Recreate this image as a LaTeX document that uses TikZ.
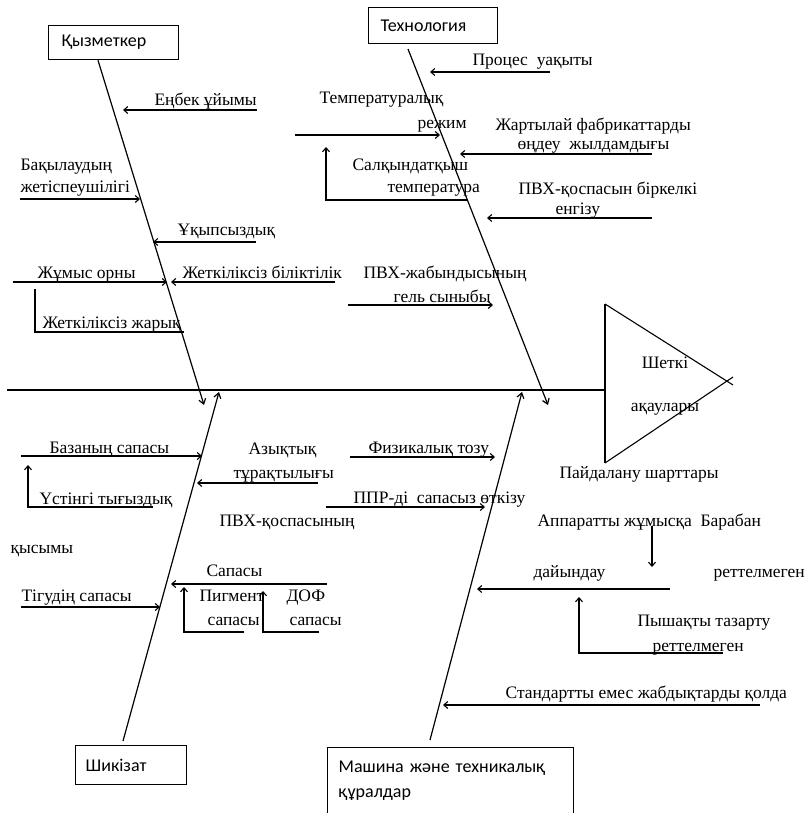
\documentclass[tikz,border=0pt]{standalone}
\usepackage{fontspec}
\setmainfont{Liberation Serif}
\newfontfamily\boxfont{Carlito}
\usetikzlibrary{arrows.meta}
\begin{document}
\begin{tikzpicture}[x=1pt,y=-1pt,line width=1.1pt,
  lbl/.style={anchor=base west,inner sep=0pt,font=\fontsize{17.5}{22}\selectfont},
  clbl/.style={anchor=base,inner sep=0pt,font=\fontsize{17.5}{22}\selectfont},
  catbox/.style={draw,line width=1.3pt,anchor=north west,align=left,
    font=\boxfont\fontsize{18}{25}\selectfont,inner ysep=0pt},
  arr/.style={-{Straight Barb[length=4pt,width=7pt]}},
  bone/.style={line width=1.2pt,-{Straight Barb[length=5pt,width=7pt]}}]
\useasboundingbox (0,0) rectangle (807,813);

% ---------- category boxes ----------
\node[catbox,minimum width=130pt,minimum height=34pt,text width=104pt,inner xsep=13pt] (staff) at (48,25) {Қызметкер};
\node[catbox,minimum width=129pt,minimum height=36pt,text width=105pt,inner xsep=12pt] (tech) at (368,7) {Технология};
\node[catbox,minimum width=111pt,minimum height=39pt,text width=91pt,inner xsep=10pt] (raw) at (75,745) {Шикізат};
\node[catbox,minimum width=246pt,minimum height=67pt,text width=224pt,inner xsep=11pt] (mach) at (327,747) {Машина және техникалық\\құралдар};

% ---------- head (effect) ----------
\coordinate (triTop) at (605,304);
\coordinate (triBot) at (605,463);
\coordinate (triTipA) at (733,385);
\coordinate (triTipB) at (733,377);
\coordinate (spineStart) at (7,390);
\coordinate (spineEnd) at (605,390);
\draw (triTop) -- (triBot);
\draw (triTop) -- (triTipA);
\draw (triBot) -- (triTipB);
\draw (spineStart) -- (spineEnd);
\node[clbl] (eff1) at (665,368) {Шеткі};
\node[clbl] (eff2) at (665,411) {ақаулары};

% ---------- main bones ----------
\coordinate (staffTip) at (204,405);
\coordinate (techTail) at (408,49);
\coordinate (techTip) at (548,405);
\coordinate (rawTail) at (123,741);
\coordinate (rawTip) at (219,392);
\coordinate (machTail) at (430,740);
\coordinate (machTip) at (522,392);
\draw[bone] ([xshift=50pt]staff.south west) -- (staffTip);
\draw[bone] (techTail) -- (techTip);
\draw[bone] (rawTail) -- (rawTip);
\draw[bone] (machTail) -- (machTip);

% ---------- staff causes ----------
\node[lbl] (s1) at (154,106) {Еңбек ұйымы};
\node[lbl] (s2a) at (20,171) {Бақылаудың};
\node[lbl] (s2b) at (20,193) {жетіспеушілігі};
\node[lbl] (s3) at (177,235) {Ұқыпсыздық};
\node[lbl] (s4) at (37,278) {Жұмыс орны};
\node[lbl] (s5) at (182,278) {Жеткіліксіз біліктілік};
\node[lbl] (s6) at (42,328) {Жеткіліксіз жарық};
\coordinate (s1a) at (257,110); \coordinate (s1b) at (123,110);
\coordinate (s2x) at (20,199);  \coordinate (s2y) at (140,199);
\coordinate (s3a) at (256,242); \coordinate (s3b) at (153,242);
\coordinate (s4a) at (13,282);  \coordinate (s4b) at (167,282);
\coordinate (s5a) at (335,282); \coordinate (s5b) at (171,282);
\coordinate (s6a) at (35,289);  \coordinate (s6c) at (35,332); \coordinate (s6b) at (184,332);
\draw[arr] (s1a) -- (s1b);
\draw[arr] (s2x) -- (s2y);
\draw[arr] (s3a) -- (s3b);
\draw[arr] (s4a) -- (s4b);
\draw[arr] (s5a) -- (s5b);
\draw (s6a) -- (s6c) -- (s6b);

% ---------- technology causes ----------
\node[lbl] (t1) at (472,66) {Процес\ \ уақыты};
\node[lbl] (t2a) at (319,104) {Температуралық};
\node[lbl] (t2b) at (417,129) {режим};
\node[lbl] (t3a) at (495,131) {Жартылай фабрикаттарды};
\node[lbl] (t3b) at (517,150) {өңдеу\ \ жылдамдығы};
\node[lbl] (t4a) at (352,171) {Салқындатқыш};
\node[lbl] (t4b) at (387,193) {температура};
\node[lbl] (t5a) at (518,194) {ПВХ-қоспасын біркелкі};
\node[lbl] (t5b) at (555,214) {енгізу};
\node[lbl] (t6a) at (363,278) {ПВХ-жабындысының};
\node[lbl] (t6b) at (393,302) {гель сыныбы};
\coordinate (t1a) at (550,72);  \coordinate (t1b) at (430,72);
\coordinate (t2x) at (295,135); \coordinate (t2y) at (440,135);
\coordinate (t3x) at (652,154); \coordinate (t3y) at (460,154);
\coordinate (t4x) at (468,200); \coordinate (t4c) at (326,200); \coordinate (t4y) at (326,147);
\coordinate (t5x) at (652,218); \coordinate (t5y) at (487,218);
\coordinate (t6x) at (348,305); \coordinate (t6y) at (493,305);
\draw[arr] (t1a) -- (t1b);
\draw[arr] (t2x) -- (t2y);
\draw[arr] (t3x) -- (t3y);
\draw[arr] (t4x) -- (t4c) -- (t4y);
\draw[arr] (t5x) -- (t5y);
\draw[arr] (t6x) -- (t6y);

% ---------- raw material causes ----------
\node[lbl] (r1) at (49,453) {Базаның сапасы};
\node[lbl] (r2) at (39,504) {Үстінгі тығыздық};
\node[lbl] (r3a) at (219,526) {ПВХ-қоспасының};
\node[lbl] (r3b) at (10,553) {қысымы};
\node[lbl] (r4) at (206,576) {Сапасы};
\node[lbl] (r5) at (21,601) {Тігудің сапасы};
\node[lbl] (r6a) at (199,601) {Пигмент};
\node[lbl] (r6b) at (207,625) {сапасы};
\node[lbl] (r7a) at (286,601) {ДОФ};
\node[lbl] (r7b) at (289,625) {сапасы};
\node[lbl] (r8a) at (248,454) {Азықтық};
\node[lbl] (r8b) at (233,478) {тұрақтылығы};
\coordinate (r1x) at (21,456);  \coordinate (r1y) at (202,456);
\coordinate (r2x) at (153,507); \coordinate (r2c) at (28,507); \coordinate (r2y) at (28,465);
\coordinate (r4x) at (327,584); \coordinate (r4y) at (171,584);
\coordinate (r5x) at (21,607);  \coordinate (r5y) at (160,607);
\coordinate (r6x) at (244,632); \coordinate (r6c) at (184,632); \coordinate (r6y) at (184,587);
\coordinate (r7x) at (319,632); \coordinate (r7c) at (263,632); \coordinate (r7y) at (263,591);
\coordinate (r8x) at (318,483); \coordinate (r8y) at (197,483);
\draw[arr] (r1x) -- (r1y);
\draw[arr] (r2x) -- (r2c) -- (r2y);
\draw[arr] (r4x) -- (r4y);
\draw[arr] (r5x) -- (r5y);
\draw[arr] (r6x) -- (r6c) -- (r6y);
\draw[arr] (r7x) -- (r7c) -- (r7y);
\draw[arr] (r8x) -- (r8y);

% ---------- machine causes ----------
\node[lbl] (m1) at (368,453) {Физикалық тозу};
\node[lbl] (m2) at (353,503) {ППР-ді\ \ сапасыз өткізу};
\node[lbl] (m3) at (559,478) {Пайдалану шарттары};
\node[lbl] (m4a) at (537,526) {Аппаратты жұмысқа\ \ Барабан};
\node[lbl] (m4b) at (533,577) {дайындау};
\node[lbl] (m4c) at (713,577) {реттелмеген};
\node[lbl] (m5a) at (637,626) {Пышақты тазарту};
\node[lbl] (m5b) at (652,651) {реттелмеген};
\node[lbl] (m6) at (505,698) {Стандартты емес жабдықтарды қолда};
\coordinate (m1x) at (350,457); \coordinate (m1y) at (495,457);
\coordinate (m2x) at (326,507); \coordinate (m2y) at (485,507);
\coordinate (m4x) at (652,526); \coordinate (m4y) at (652,567);
\coordinate (m4s) at (670,589); \coordinate (m4t) at (477,589);
\coordinate (m5x) at (723,653); \coordinate (m5c) at (579,653); \coordinate (m5y) at (579,597);
\coordinate (m6x) at (760,705); \coordinate (m6y) at (443,705);
\draw[arr] (m1x) -- (m1y);
\draw[arr] (m2x) -- (m2y);
\draw[arr] (m4x) -- (m4y);
\draw[arr] (m4s) -- (m4t);
\draw[arr] (m5x) -- (m5c) -- (m5y);
\draw[arr] (m6x) -- (m6y);
\end{tikzpicture}
\end{document}
